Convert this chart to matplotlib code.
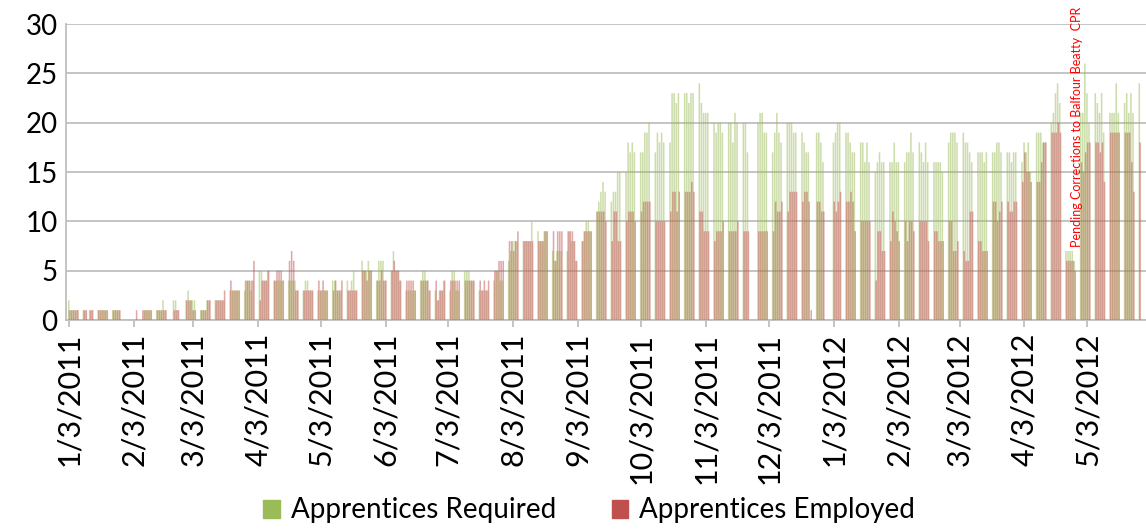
import numpy as np
import pandas as pd
import matplotlib
matplotlib.use("Agg")
import matplotlib.pyplot as plt
import matplotlib.dates as mdates
from matplotlib.patches import Patch

plt.rcParams['font.family'] = ['Lato', 'DejaVu Sans']

# weekday values, Mon-Fri, one row of 5 per week starting Mon 3 Jan 2011
required = [
    2, 1, 1, 1, 1,   1, 1, 0, 1, 1,   1, 1, 1, 1, 1,   1, 1, 1, 1, 0,
    0, 0, 0, 0, 0,   0, 1, 1, 1, 1,   1, 1, 1, 2, 1,   0, 2, 2, 1, 0,
    2, 3, 2, 2, 2,   1, 1, 1, 2, 2,   2, 2, 2, 2, 2,   3, 3, 3, 3, 3,
    3, 4, 4, 3, 4,   5, 5, 4, 4, 5,   4, 4, 4, 4, 4,   4, 4, 4, 4, 3,
    3, 4, 4, 3, 3,   3, 3, 3, 3, 3,   4, 4, 3, 3, 3,   4, 3, 4, 5, 3,
    6, 5, 5, 6, 5,   4, 6, 6, 6, 4,   5, 7, 5, 5, 4,   3, 3, 3, 3, 3,
    4, 5, 5, 4, 3,   3, 2, 3, 3, 4,   3, 5, 5, 3, 3,   5, 5, 5, 4, 4,
    3, 3, 3, 3, 3,   4, 5, 5, 4, 4,   6, 7, 8, 8, 8,   8, 8, 8, 8, 10,
    9, 8, 8, 9, 9,   7, 6, 7, 7, 7,   7, 9, 8, 8, 6,   8, 9, 10, 10, 9,
    11, 12, 13, 14, 13,   12, 13, 13, 15, 15,   15, 18, 17, 18, 17,   17, 17, 19, 19, 20,
    17, 19, 18, 19, 18,   18, 23, 23, 22, 23,   23, 23, 22, 23, 23,   24, 22, 21, 21, 21,
    20, 19, 20, 20, 19,   20, 20, 18, 21, 20,   20, 20, 17, 0, 0,   20, 21, 21, 19, 19,
    17, 19, 21, 19, 18,   20, 20, 20, 19, 19,   19, 18, 17, 17, 0,   19, 19, 18, 16, 0,
    0, 18, 19, 20, 20,   19, 19, 18, 17, 17,   18, 18, 16, 18, 16,   15, 16, 17, 16, 16,
    16, 16, 18, 16, 16,   16, 17, 17, 19, 17,   18, 17, 16, 18, 16,   16, 16, 16, 16, 15,
    18, 19, 19, 19, 18,   19, 18, 18, 17, 16,   17, 17, 17, 16, 17,   17, 17, 18, 18, 17,
    17, 17, 16, 17, 17,   16, 18, 17, 18, 15,   19, 19, 19, 18, 18,   20, 21, 23, 24, 22,
    7, 7, 7, 7, 6,   21, 21, 26, 23, 20,   23, 22, 21, 23, 19,   21, 21, 21, 24, 21,
    22, 23, 21, 23, 21,   24, 0, 0, 0, 0,
]
employed = [
    1, 1, 1, 1, 1,   1, 1, 0, 1, 1,   1, 1, 1, 1, 1,   1, 1, 1, 1, 0,
    0, 0, 0, 0, 1,   1, 1, 1, 1, 1,   1, 1, 1, 1, 1,   0, 1, 1, 1, 0,
    2, 2, 2, 1, 1,   1, 1, 1, 2, 2,   2, 2, 2, 2, 3,   4, 3, 3, 3, 3,
    4, 4, 4, 4, 6,   2, 4, 4, 4, 5,   4, 5, 5, 5, 4,   6, 7, 6, 3, 3,
    3, 3, 3, 3, 3,   4, 3, 4, 3, 3,   3, 4, 3, 3, 4,   3, 3, 3, 3, 3,
    5, 5, 4, 5, 5,   4, 4, 5, 4, 4,   5, 6, 5, 5, 4,   4, 4, 4, 4, 3,
    4, 4, 4, 4, 3,   4, 2, 3, 3, 4,   4, 4, 4, 4, 4,   4, 4, 4, 4, 4,
    4, 3, 4, 3, 4,   5, 5, 6, 6, 6,   8, 8, 7, 8, 9,   8, 8, 8, 8, 8,
    8, 8, 8, 9, 9,   9, 6, 9, 9, 9,   9, 9, 9, 8, 6,   8, 9, 9, 9, 9,
    11, 11, 11, 11, 10,   8, 11, 11, 8, 8,   10, 11, 11, 11, 10,   11, 12, 12, 12, 12,
    10, 10, 10, 10, 10,   11, 13, 13, 11, 13,   13, 13, 13, 14, 13,   11, 11, 9, 9, 9,
    8, 9, 9, 9, 10,   9, 9, 9, 9, 10,   9, 9, 9, 0, 0,   9, 9, 9, 9, 9,
    9, 12, 11, 11, 12,   11, 13, 13, 13, 13,   12, 13, 13, 12, 1,   12, 12, 11, 11, 0,
    0, 12, 11, 12, 13,   12, 12, 13, 12, 9,   10, 10, 10, 10, 10,   4, 9, 9, 7, 7,
    8, 11, 10, 9, 8,   10, 8, 10, 10, 9,   10, 10, 10, 10, 8,   9, 9, 8, 8, 8,
    10, 10, 7, 7, 8,   7, 6, 6, 11, 11,   8, 8, 7, 7, 7,   12, 12, 10, 11, 12,
    12, 11, 11, 12, 12,   14, 17, 15, 15, 14,   14, 14, 16, 18, 18,   19, 19, 19, 20, 19,
    6, 6, 6, 6, 5,   16, 15, 17, 18, 18,   18, 18, 17, 18, 14,   19, 19, 19, 19, 19,
    19, 19, 19, 16, 13,   18, 0, 0, 0, 0,
]
series_names = ["Apprentices Required", "Apprentices Employed"]
note_text = "Pending Corrections to Balfour Beatty  CPR"
note_date = "2012-04-28"
tick_dates = pd.date_range("2011-01-01", "2012-05-03", freq="MS") + pd.Timedelta(days=2)

days = pd.bdate_range("2011-01-03", periods=len(required))
x = mdates.date2num(days)

fig = plt.figure(figsize=(11.46, 5.29), dpi=100)
ax = fig.add_axes([0.0576, 0.395, 0.9424, 0.5595])

ax.bar(x - 0.2, required, width=0.75, color="#9BBB59", alpha=0.5, linewidth=0,
       snap=False, zorder=2)
ax.bar(x + 0.2, employed, width=0.75, color="#C0504D", alpha=0.5, linewidth=0,
       snap=False, zorder=3)

ax.set_ylim(0, 30)
ax.set_yticks(np.arange(0, 31, 5))
ax.set_xlim(mdates.date2num(pd.Timestamp("2011-01-01 12:00")), mdates.date2num(pd.Timestamp("2012-05-31")))
ax.set_xticks(mdates.date2num(tick_dates))
ax.set_xticklabels([f"{d.month}/{d.day}/{d.year}" for d in tick_dates], rotation=90)

ax.grid(axis="y", color="#BFBFBF", linewidth=1.3, zorder=0)
ax.set_axisbelow(True)
for s in ["top", "right"]:
    ax.spines[s].set_visible(False)
for s in ["left", "bottom"]:
    ax.spines[s].set_color("#BFBFBF")
    ax.spines[s].set_linewidth(1.3)
ax.tick_params(axis="y", length=0, labelsize=20, pad=6)
ax.tick_params(axis="x", length=5, color="#BFBFBF", width=1.3, labelsize=22, pad=4)

ax.text(mdates.date2num(pd.Timestamp(note_date)), 19.6, note_text, rotation=90,
        color="#FF0000", fontsize=9, ha="center", va="center", clip_on=False, zorder=5)

handles = [Patch(color="#9BBB59"), Patch(color="#C0504D")]
fig.legend(handles, series_names, loc="center", bbox_to_anchor=(0.514, 0.035), ncol=2,
           frameon=False, fontsize=20, handlelength=0.6, handleheight=0.6,
           columnspacing=2.0, handletextpad=0.4)

fig.savefig("out.png", dpi=100)
